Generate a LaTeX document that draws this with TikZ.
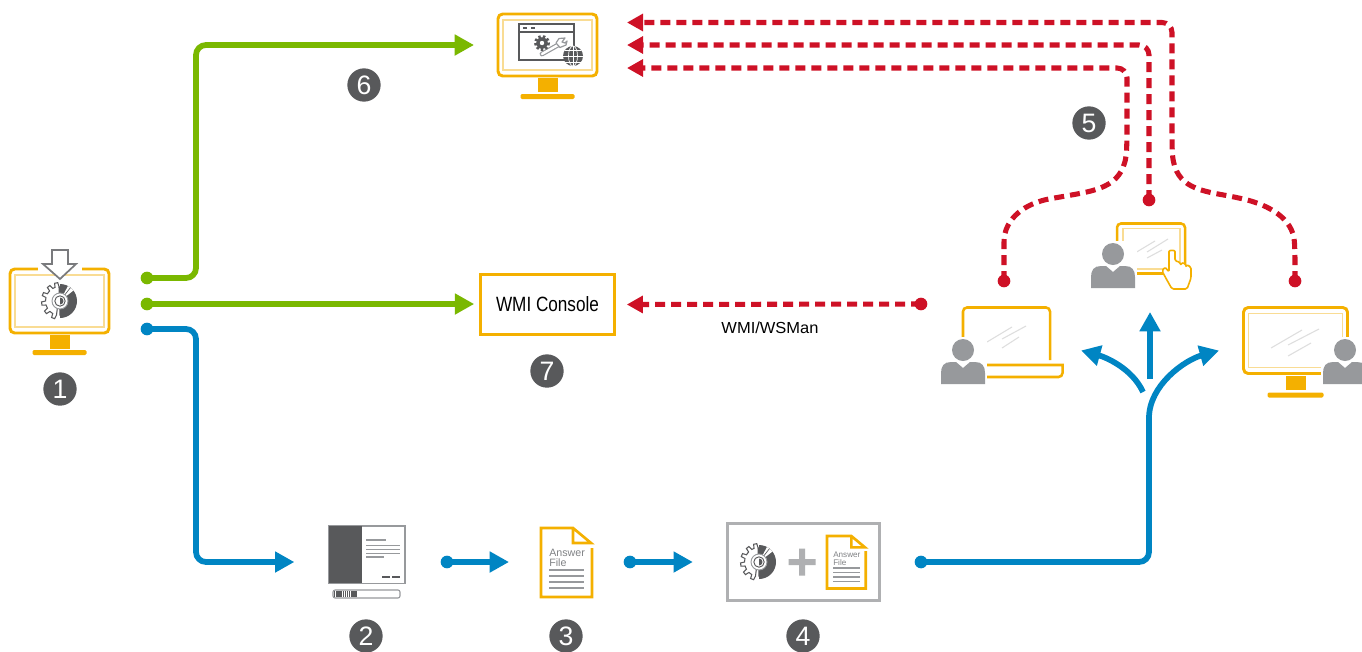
\documentclass[tikz,border=0pt]{standalone}
\usepackage{fontspec}
\setmainfont{Liberation Sans}
\usetikzlibrary{arrows.meta}
\definecolor{dk}{HTML}{58595B}
\definecolor{gy}{HTML}{97999C}
\definecolor{lg}{HTML}{AFB0B2}
\definecolor{org}{HTML}{F4B000}
\definecolor{pal}{HTML}{F9DC94}
\definecolor{grn}{HTML}{7AB800}
\definecolor{blu}{HTML}{0085C3}
\definecolor{rd}{HTML}{CE1126}
\tikzset{
 x=0.75pt,y=-0.75pt,
 flow/.style={line width=4.3pt,rounded corners=7.5pt,-{Triangle[length=14.5pt,width=15pt]}},
 greenflow/.style={flow,draw=grn},
 blueflow/.style={flow,draw=blu},
 redflow/.style={line width=3.8pt,draw=rd,rounded corners=7.5pt,dash pattern=on 7.5pt off 4.5pt,-{Triangle[length=12pt,width=12.5pt]}},
 dot/.style={circle,inner sep=0pt,minimum size=9.5pt,fill=#1},
 num/.style={circle,inner sep=0pt,minimum size=25pt,fill=dk,text=white,font=\fontsize{20}{20}\selectfont},
 ghost/.style={inner sep=0pt,outer sep=0pt,minimum width=#1},
 frame/.style={draw=org,line width=2.2pt,rounded corners=3.5pt},
 framein/.style={draw=pal,line width=1pt},
 streak/.style={draw=black!13,line width=.8pt},
 thinline/.style={draw=gy,line width=.9pt},
 pics/monitor/.style n args={4}{code={
  \draw[frame] (0,0) rectangle (#1,#2);
  \draw[framein] (5,6) rectangle (#1-5,#2-6);
  \fill[org] (#1/2-10,#2+2) rectangle (#1/2+10,#2+16);
  \fill[org,rounded corners=1pt] (#1/2-#3,#4) rectangle (#1/2+#3,#4+5);
 }},
 pics/person/.style={code={
  \fill[white] (-24,-13) rectangle (24,36);
  \fill[gy] (0,0) circle (11);
  \fill[gy] (-22,34) -- (-22,23) .. controls (-22,16) and (-19,12) .. (-12,12) -- (-7,12) -- (0,18) -- (7,12) -- (12,12) .. controls (19,12) and (22,16) .. (22,23) -- (22,34) -- cycle;
 }},
 pics/gearcd/.style={code={
  \draw[dk,line width=.8pt,fill=white] (0,-14.5)
    \foreach \a in {112,142,172,202,232,258} { -- (\a-8:14.5) -- (\a-5:18.5) -- (\a+5:18.5) -- (\a+8:14.5) } -- (0,14.5) -- cycle;
  \fill[dk] (0,-17) arc (-90:90:17) -- cycle;
  \fill[white] (0,0) -- (-62:17) arc (-62:-38:17) -- cycle;
  \draw[dk,line width=.5pt] (0,0) -- (-52:17);
  \draw[gy,line width=.7pt,fill=white] (0,0) circle (8);
  \draw[dk,line width=.7pt,fill=white] (0,0) circle (5.2);
  \fill[dk] (0,-3.5) arc (-90:90:3.5) -- cycle;
 }},
 pics/docicon/.style={code={
  \draw[org,line width=2pt,fill=white,line join=miter] (51,20) -- (51,69) -- (0,69) -- (0,0) -- (32,0) -- (50,15) -- (32,15) -- (32,0);
  \node[text=gy!85!black,font=\fontsize{8}{8}\selectfont,anchor=west,inner sep=0pt,transform shape] at (8,24.5) {Answer};
  \node[text=gy!85!black,font=\fontsize{8}{8}\selectfont,anchor=west,inner sep=0pt,transform shape] at (8,35) {File};
  \foreach \yy in {42,48,54,60} \draw[thinline] (8,\yy) -- (43,\yy);
 }}
}
\begin{document}
\begin{tikzpicture}
\clip (0,0) rectangle (1362,651);
\fill[white] (0,0) rectangle (1362,651);

% --- placeholder for the top monitor, used as connector end
\node[ghost=114.75pt,minimum height=64pt] (top) at (550.5,55) {};

% --- monitor 1
\pic at (10,269) {monitor={99}{64}{27}{81}};
\draw[white,line width=3pt] (38,269) -- (82,269);
\draw[gy!80!black,line width=1.3pt,fill=white,line join=miter] (52,250) -- (68,250) -- (68,264) -- (76,264) -- (60,279) -- (43,264) -- (52,264) -- cycle;
\pic at (60,301) {gearcd};
\node[num] (n1) at (60,389) {1};

% --- top monitor
\pic at (498,14) {monitor={99}{62}{27}{80}};
\draw[dk,line width=.9pt] (519,24) rectangle (574,60);
\draw[dk,line width=.9pt] (519,32) -- (574,32);
\draw[dk,line width=1pt] (523,28) -- (527,28) (531,28) -- (535,28);
\draw[gy,line width=3.6pt,line cap=round] (542,54) -- (558,45);
\draw[white,line width=1.8pt,line cap=round] (542,54) -- (558,45);
\draw[gy,line width=.9pt,fill=white,line join=round] (556,43) -- (559,38.5) -- (565,38) -- (562,42) -- (565,43) -- (567,41) -- (566,45) -- (560,47.5) -- cycle;
\draw[dk,line width=2pt,dash pattern=on 1.8pt off 1.6pt] (542,43) circle (6.6);
\fill[dk] (542,43) circle (5.8);
\fill[white] (542,43) circle (2.2);
\fill[dk] (573,56) circle (10);
\draw[white,line width=.5pt] (573,46) -- (573,66) (563,56) -- (583,56) (565,50) -- (581,50) (565,62) -- (581,62);
\draw[white,line width=.5pt] (573,56) ellipse (4.5 and 10);
\node[num] (n6) at (364,85) {6};

% --- WMI console
\node[draw=org,line width=2.2pt,outer sep=0pt,minimum width=101pt,minimum height=45pt,inner sep=0pt] (wmi) at (547.5,304.5) {\fontsize{15.5}{16}\selectfont\scalebox{.83}[1]{WMI Console}};
\node[num] (n7) at (547,371) {7};
\node[font=\fontsize{12}{12}\selectfont,inner sep=0pt] (wsman) at (770,328) {\scalebox{1.03}[1]{WMI/WSMan}};

% --- step 2
\node[draw=gy,line width=1pt,outer sep=0pt,fill=white,minimum width=57pt,minimum height=43pt,inner sep=0pt] (inst) at (367,554.5) {};
\fill[dk] (329,526) rectangle (362,583);
\draw[thinline] (366,540) -- (386,540) (366,545.5) -- (400,545.5) (366,549.5) -- (400,549.5) (366,553.5) -- (400,553.5) (366,557) -- (384,557);
\draw[dk,line width=1.4pt] (382,577) -- (390,577) (392,577) -- (400,577);
\draw[gy,line width=.8pt,rounded corners=1.5pt] (333,590) rectangle (400,598);
\draw[dk,line width=4.4pt,dash pattern=on 1.1pt off .5pt] (334,594) -- (357,594);
\node[num] (n2) at (366,636) {2};

% --- step 3
\pic at (541,528) {docicon};
\node[ghost=38.25pt,minimum height=52pt] (doc) at (566.5,562) {};
\node[num] (n3) at (566,636) {3};

% --- step 4
\node[draw=lg,line width=2.2pt,outer sep=0pt,fill=white,minimum width=114pt,minimum height=58pt,inner sep=0pt] (pack) at (803.5,562) {};
\pic at (759,562) {gearcd};
\fill[lg] (788.5,559) rectangle (815.5,565) (799,548.5) rectangle (805,575.5);
\pic[scale=.76] at (827,536) {docicon};
\node[num] (n4) at (803,636) {4};
\node[num] (n5) at (1089,123) {5};

% --- laptop + person
\draw[org,line width=1.9pt,rounded corners=3pt] (963,345) -- (963,307.5) -- (1050,307.5) -- (1050,360);
\draw[org,line width=1.9pt] (980,365) -- (1062.5,365) [rounded corners=3pt] -- (1062.5,377) -- (980,377);
\draw[streak] (987,342) -- (1012,327) (1002,339) -- (1026,326) (1002,348) -- (1019,337);
\pic at (963,350) {person};

% --- tablet + person + hand
\draw[org,line width=1.9pt,rounded corners=3pt] (1117,260) -- (1117,223.5) -- (1185,223.5) -- (1185,265);
\draw[pal,line width=1pt] (1123,250) -- (1123,228.5) -- (1180,228.5) -- (1180,265);
\draw[org,line width=1.6pt] (1130,273.5) -- (1165,273.5);
\draw[pal,line width=1pt] (1130,269) -- (1165,269);
\draw[streak] (1135,253) -- (1155,241) (1147,252) -- (1168,239) (1147,258) -- (1162,250);
\pic at (1113,254) {person};
\draw[org,line width=1.2pt,fill=white,line join=round,rounded corners=1.2pt] (1169,272) -- (1169,253) .. controls (1169,250) and (1175,250) .. (1175,253) -- (1175,261) -- (1180,262) -- (1181,266) -- (1181,262.5) -- (1186,264) -- (1186,268) -- (1186,264.5) -- (1191,267) -- (1191,278) -- (1187,289) -- (1172,289) -- (1168,282) -- (1162,271) -- (1165,267) -- cycle;

% --- right monitor + person
\pic at (1243.5,307.5) {monitor={104}{66}{28}{85}};
\draw[streak] (1271,348) -- (1302,330) (1288,345) -- (1319,329) (1288,356) -- (1311,343);
\pic at (1345,350) {person};

% --- dots
\node[dot=grn] (g1) at (147,278) {};
\node[dot=grn] (g2) at (147,304) {};
\node[dot=blu] (b1) at (147,329) {};
\node[dot=blu] (b2) at (447,562) {};
\node[dot=blu] (b3) at (630,562) {};
\node[dot=blu] (b4) at (921,562) {};
\node[dot=rd] (r0) at (921,304) {};
\node[dot=rd] (r1) at (1004,281) {};
\node[dot=rd] (r2) at (1149,200) {};
\node[dot=rd] (r3) at (1295,281) {};

% --- green
\draw[greenflow] (g1.center) -- (196,278) -- (196,45) -- (top.west |- 0,45);
\draw[greenflow] (g2.center) -- ([xshift=-4.5pt]wmi.west |- g2.center);

% --- blue
\draw[blueflow] (b1.center) -- (196,329) -- (196,562) -- ([xshift=-26pt]inst.west |- b2.center);
\draw[blueflow] (b2.center) -- ([xshift=-24pt]doc.west);
\draw[blueflow] (b3.center) -- ([xshift=-26pt]pack.west);
\coordinate (splitC) at (1150,379);
\coordinate (splitL) at (1143,392);
\draw[blueflow] (splitC) -- (1150,312);
\draw[blueflow] (splitL) .. controls (1132,368) and (1105,357) .. (1081,350.5);
\draw[blueflow] (b4.center) -- (1149,562) -- (1149,428) .. controls (1149,385) and (1185,360) .. (1219,350.5);

% --- red
\draw[redflow] (r0.center) -- ([xshift=9pt]wmi.east);
\draw[redflow] (r1.center) -- (1004,252) .. controls (1004,218) and (1026,203) .. (1060,197) .. controls (1100,190) and (1125,185) .. (1127,140) -- (1127,68) -- (top.east |- 0,68);
\draw[redflow] (r2.center) -- (1149,45) -- (top.east |- 0,45);
\draw[redflow] (r3.center) -- (1295,252) .. controls (1293,218) and (1268,205) .. (1235,197) .. controls (1195,190) and (1173,185) .. (1172,140) -- (1172,22.5) -- (top.east |- 0,22.5);
\end{tikzpicture}
\end{document}
